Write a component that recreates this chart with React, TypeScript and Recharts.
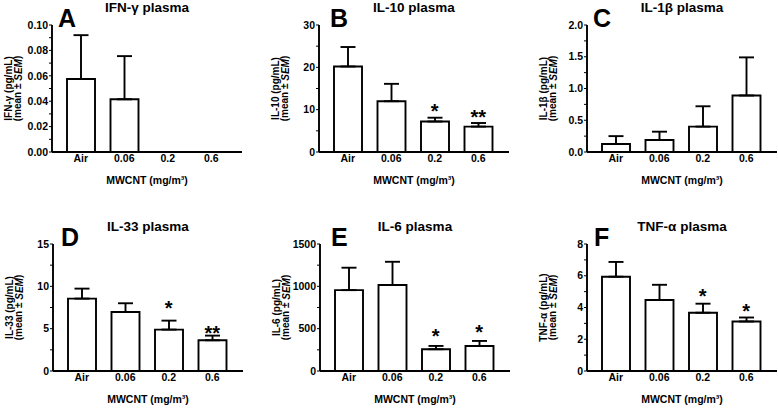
import React from 'react';
import { BarChart, Bar, XAxis, YAxis, ErrorBar, ReferenceDot } from 'recharts';

const doses = ['Air', '0.06', '0.2', '0.6'];

// A: IFN-g
const ifnMean = [0.0575, 0.0415, null, null];
const ifnSem = [0.0345, 0.034, null, null];
const ifnSig = [null, null, null, null];
const ifnStarAt = [null, null, null, null];
const ifnTicks = [0, 0.02, 0.04, 0.06, 0.08, 0.1];

// B: IL-10
const il10Mean = [20.2, 12.0, 7.2, 6.0];
const il10Sem = [4.6, 4.1, 0.9, 0.85];
const il10Sig = [null, null, '*', '**'];
const il10StarAt = [null, null, 10.55, 9.14];
const il10Ticks = [0, 10, 20, 30];

// C: IL-1b
const il1bMean = [0.126, 0.19, 0.4, 0.89];
const il1bSem = [0.124, 0.13, 0.32, 0.6];
const il1bSig = [null, null, null, null];
const il1bStarAt = [null, null, null, null];
const il1bTicks = [0, 0.5, 1.0, 1.5, 2.0];

// D: IL-33
const il33Mean = [8.55, 6.97, 4.89, 3.63];
const il33Sem = [1.18, 1.03, 1.06, 0.55];
const il33Sig = [null, null, '*', '**'];
const il33StarAt = [null, null, 7.9, 5.0];
const il33Ticks = [0, 5, 10, 15];

// E: IL-6
const il6Mean = [955, 1015, 257, 296];
const il6Sem = [265, 275, 39, 59];
const il6Sig = [null, null, '*', '*'];
const il6StarAt = [null, null, 462, 509];
const il6Ticks = [0, 500, 1000, 1500];

// F: TNF-a
const tnfMean = [5.94, 4.47, 3.67, 3.12];
const tnfSem = [0.93, 0.96, 0.57, 0.25];
const tnfSig = [null, null, '*', '*'];
const tnfStarAt = [null, null, 4.95, 4.03];
const tnfTicks = [0, 2, 4, 6, 8];

const panels = [
  { letter: 'A', title: 'IFN-γ plasma', yName: 'IFN-γ', mean: ifnMean, sem: ifnSem, sig: ifnSig, starAt: ifnStarAt, ticks: ifnTicks, digits: 2, left: 0, top: 0, letterX: 58 },
  { letter: 'B', title: 'IL-10 plasma', yName: 'IL-10', mean: il10Mean, sem: il10Sem, sig: il10Sig, starAt: il10StarAt, ticks: il10Ticks, digits: 0, left: 267, top: 0, letterX: 63 },
  { letter: 'C', title: 'IL-1β plasma', yName: 'IL-1β', mean: il1bMean, sem: il1bSem, sig: il1bSig, starAt: il1bStarAt, ticks: il1bTicks, digits: 1, left: 535, top: 0, letterX: 58 },
  { letter: 'D', title: 'IL-33 plasma', yName: 'IL-33', mean: il33Mean, sem: il33Sem, sig: il33Sig, starAt: il33StarAt, ticks: il33Ticks, digits: 0, left: 1, top: 219, letterX: 60 },
  { letter: 'E', title: 'IL-6 plasma', yName: 'IL-6', mean: il6Mean, sem: il6Sem, sig: il6Sig, starAt: il6StarAt, ticks: il6Ticks, digits: 0, left: 268, top: 219, letterX: 63 },
  { letter: 'F', title: 'TNF-α plasma', yName: 'TNF-α', mean: tnfMean, sem: tnfSem, sig: tnfSig, starAt: tnfStarAt, ticks: tnfTicks, digits: 0, left: 535, top: 219, letterX: 59 },
];

const W = 260;
const H = 192;
const PLOT_LEFT = 52;
const PLOT_TOP = 25;
const PLOT_W = 190;
const PLOT_H = 127;
const FONT = "'Liberation Sans', Arial, sans-serif";
const LINE = 1.9;

// major ticks plus one unlabeled minor tick between each pair
const withMinor = (ticks: number[]) => {
  const out: number[] = [];
  ticks.forEach((t, i) => {
    out.push(t);
    if (i < ticks.length - 1) out.push((t + ticks[i + 1]) / 2);
  });
  return out;
};

const Panel = ({ p }: { p: any }) => {
  const data = doses.map((d, i) => ({
    dose: d,
    mean: p.mean[i],
    err: p.sem[i] == null ? undefined : [0, p.sem[i]],
  }));
  const majors = p.ticks;
  const cx = PLOT_LEFT + PLOT_W / 2;
  const cy = PLOT_TOP + PLOT_H / 2;

  return (
    <div style={{ position: 'absolute', left: p.left, top: p.top, width: W, height: H }}>
      <BarChart width={W} height={H} data={data} margin={{ top: PLOT_TOP, right: W - PLOT_LEFT - PLOT_W, bottom: 0, left: 0 }}>
        <XAxis
          dataKey="dose"
          height={H - PLOT_TOP - PLOT_H}
          padding={{ left: 7, right: 9 }}
          tickLine={false}
          tickSize={0}
          tickMargin={3}
          axisLine={{ stroke: '#000', strokeWidth: LINE }}
          tick={{ fontSize: 10.5, fontWeight: 700, fill: '#000' }}
          interval={0}
        />
        <YAxis
          width={PLOT_LEFT}
          domain={[0, majors[majors.length - 1]]}
          ticks={withMinor(majors)}
          interval={0}
          tickFormatter={(v: number) => (majors.some((m: number) => Math.abs(m - v) < 1e-9) ? v.toFixed(p.digits) : '')}
          tickSize={3}
          tickMargin={1}
          tickLine={{ stroke: '#000', strokeWidth: 1 }}
          axisLine={{ stroke: '#000', strokeWidth: LINE }}
          tick={{ fontSize: 10.5, fontWeight: 700, fill: '#000' }}
        />
        <Bar dataKey="mean" fill="#fff" stroke="#000" strokeWidth={LINE} barSize={28} isAnimationActive={false}>
          <ErrorBar dataKey="err" direction="y" width={7.5} stroke="#000" strokeWidth={LINE} isAnimationActive={false} />
        </Bar>
        {doses.map((d, i) =>
          p.sig[i] ? (
            <ReferenceDot
              key={d}
              x={d}
              y={p.starAt[i]}
              r={0}
              shape={(s: any) => (
                <text x={s.cx} y={s.cy + 11} textAnchor="middle" fontSize={20} fontWeight={700} fill="#000" fontFamily={FONT}>
                  {p.sig[i]}
                </text>
              )}
            />
          ) : null
        )}
      </BarChart>
      <svg width={W} height={H} style={{ position: 'absolute', left: 0, top: 0, pointerEvents: 'none' }} fontFamily={FONT}>
        <text x={cx} y={11.5} textAnchor="middle" fontSize={13.5} fontWeight={700} fill="#000">{p.title}</text>
        <text x={p.letterX} y={26.5} fontSize={25} fontWeight={700} fill="#000">{p.letter}</text>
        <text transform={`translate(8.5,${cy}) rotate(-90)`} textAnchor="middle" dominantBaseline="central" fontSize={10} fontWeight={700} fill="#000">
          {p.yName} (pg/mL)
        </text>
        <text transform={`translate(17.5,${cy}) rotate(-90)`} textAnchor="middle" dominantBaseline="central" fontSize={10} fontWeight={700} fill="#000">
          (mean ± <tspan fontStyle="italic">SEM</tspan>)
        </text>
        <text x={cx} y={183.5} textAnchor="middle" fontSize={10.5} fontWeight={700} fill="#000">MWCNT (mg/m³)</text>
      </svg>
    </div>
  );
}

export default function App() {
  return (
    <div style={{ position: 'absolute', left: 0, top: 0, width: 778, height: 411, background: '#fff', fontFamily: FONT, overflow: 'hidden' }}>
      {panels.map((p) => (
        <Panel key={p.letter} p={p} />
      ))}
    </div>
  );
}
